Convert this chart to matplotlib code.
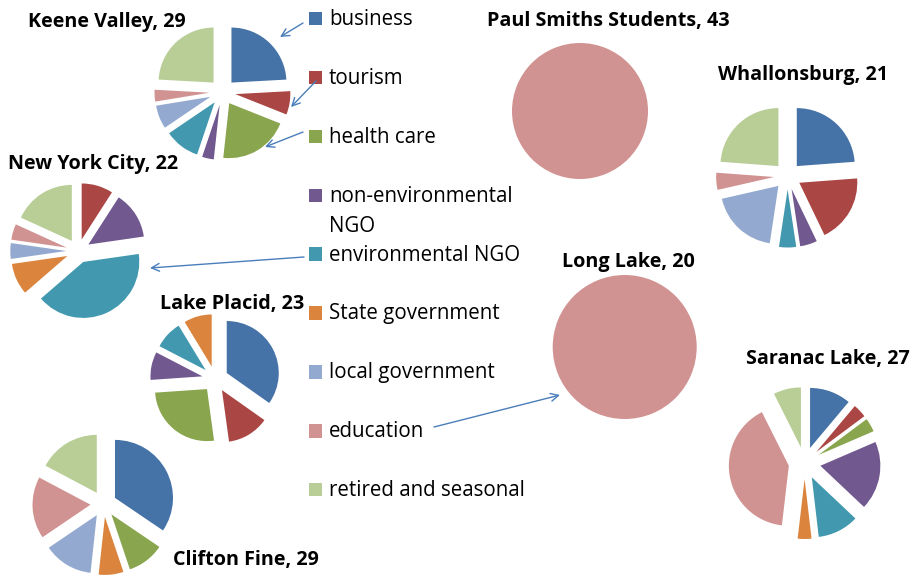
import matplotlib
matplotlib.use('Agg')
import matplotlib.pyplot as plt
from matplotlib.patches import Rectangle

W, H = 913, 581

categories = ['business', 'tourism', 'health care', 'non-environmental\nNGO',
              'environmental NGO', 'State government', 'local government',
              'education', 'retired and seasonal']
colors = ['#4572A7', '#AA4643', '#89A54E', '#71588F', '#4198AF',
          '#DB843D', '#93A9CF', '#D19392', '#B9CD96']

towns = ['Keene Valley', 'New York City', 'Lake Placid', 'Clifton Fine',
         'Paul Smiths Students', 'Whallonsburg', 'Long Lake', 'Saranac Lake']

# counts per category, same order as categories
keene_valley = [7, 2, 6, 1, 3, 0, 2, 1, 7]
new_york_city = [0, 2, 0, 3, 9, 2, 1, 1, 4]
lake_placid = [8, 3, 6, 2, 2, 2, 0, 0, 0]
clifton_fine = [10, 0, 3, 0, 0, 2, 4, 5, 5]
paul_smiths = [0, 0, 0, 0, 0, 0, 0, 43, 0]
whallonsburg = [5, 4, 0, 1, 1, 0, 4, 1, 5]
long_lake = [0, 0, 0, 0, 0, 0, 0, 20, 0]
saranac_lake = [3, 1, 1, 5, 3, 1, 0, 11, 2]

counts = [keene_valley, new_york_city, lake_placid, clifton_fine,
          paul_smiths, whallonsburg, long_lake, saranac_lake]

# pixel layout: pie centre x, y (from top), radius, explode offset (px), title x, title y
layout = [
    (222.5, 92, 55, 13, 28, 22),
    (78.3, 251, 56, 12, 8, 164),
    (215.2, 379, 52, 13, 160, 304),
    (103.5, 504, 58, 13, 173, 560),
    (580, 111, 68, 0, 487, 21),
    (787.6, 176, 58, 13.5, 718, 75),
    (624.7, 347, 72, 0, 562, 262),
    (804.6, 463, 60, 16, 746, 359),
]

plt.rcParams['font.family'] = ['Open Sans', 'DejaVu Sans']

fig = plt.figure(figsize=(W / 100, H / 100), dpi=100)
ax = fig.add_axes([0, 0, 1, 1])

for name, vals, (cx, cy, r, ex, tx, ty) in zip(towns, counts, layout):
    v = [x for x in vals if x > 0]
    c = [col for x, col in zip(vals, colors) if x > 0]
    ax.pie(v, colors=c, center=(cx, H - cy), radius=r, explode=[ex] * len(v),
           startangle=90, counterclock=False, wedgeprops=dict(linewidth=0))
    ax.text(tx, H - ty, f'{name}, {sum(vals)}', fontsize=14.2, fontweight='bold',
            ha='left', va='center')

# legend drawn by hand, wrapped labels get one text per line
leg_x, leg_y0, leg_dy = 309, 18.5, 58.9
for i, (lab, col) in enumerate(zip(categories, colors)):
    y = leg_y0 + i * leg_dy
    ax.add_patch(Rectangle((leg_x, H - y - 6.7), 13.4, 13.4, color=col, lw=0))
    for k, line in enumerate(lab.split('\n')):
        ax.text(leg_x + 20, H - y - 30 * k - 1, line, fontsize=14.8,
                ha='left', va='center')

arrow_col = '#4A7EBB'
arrows = [((303, 23), (280, 37)),
          ((316, 81), (291, 107)),
          ((303, 132), (265, 147)),
          ((304, 257), (150, 268)),
          ((434, 427), (560, 395))]
for (x0, y0), (x1, y1) in arrows:
    ax.annotate('', xy=(x1, H - y1), xytext=(x0, H - y0),
                arrowprops=dict(arrowstyle='->', color=arrow_col, lw=1,
                                mutation_scale=14, shrinkA=0, shrinkB=0))

ax.set_xlim(0, W)
ax.set_ylim(0, H)
ax.set_aspect('equal')
ax.axis('off')

fig.savefig('out.png', dpi=100)
